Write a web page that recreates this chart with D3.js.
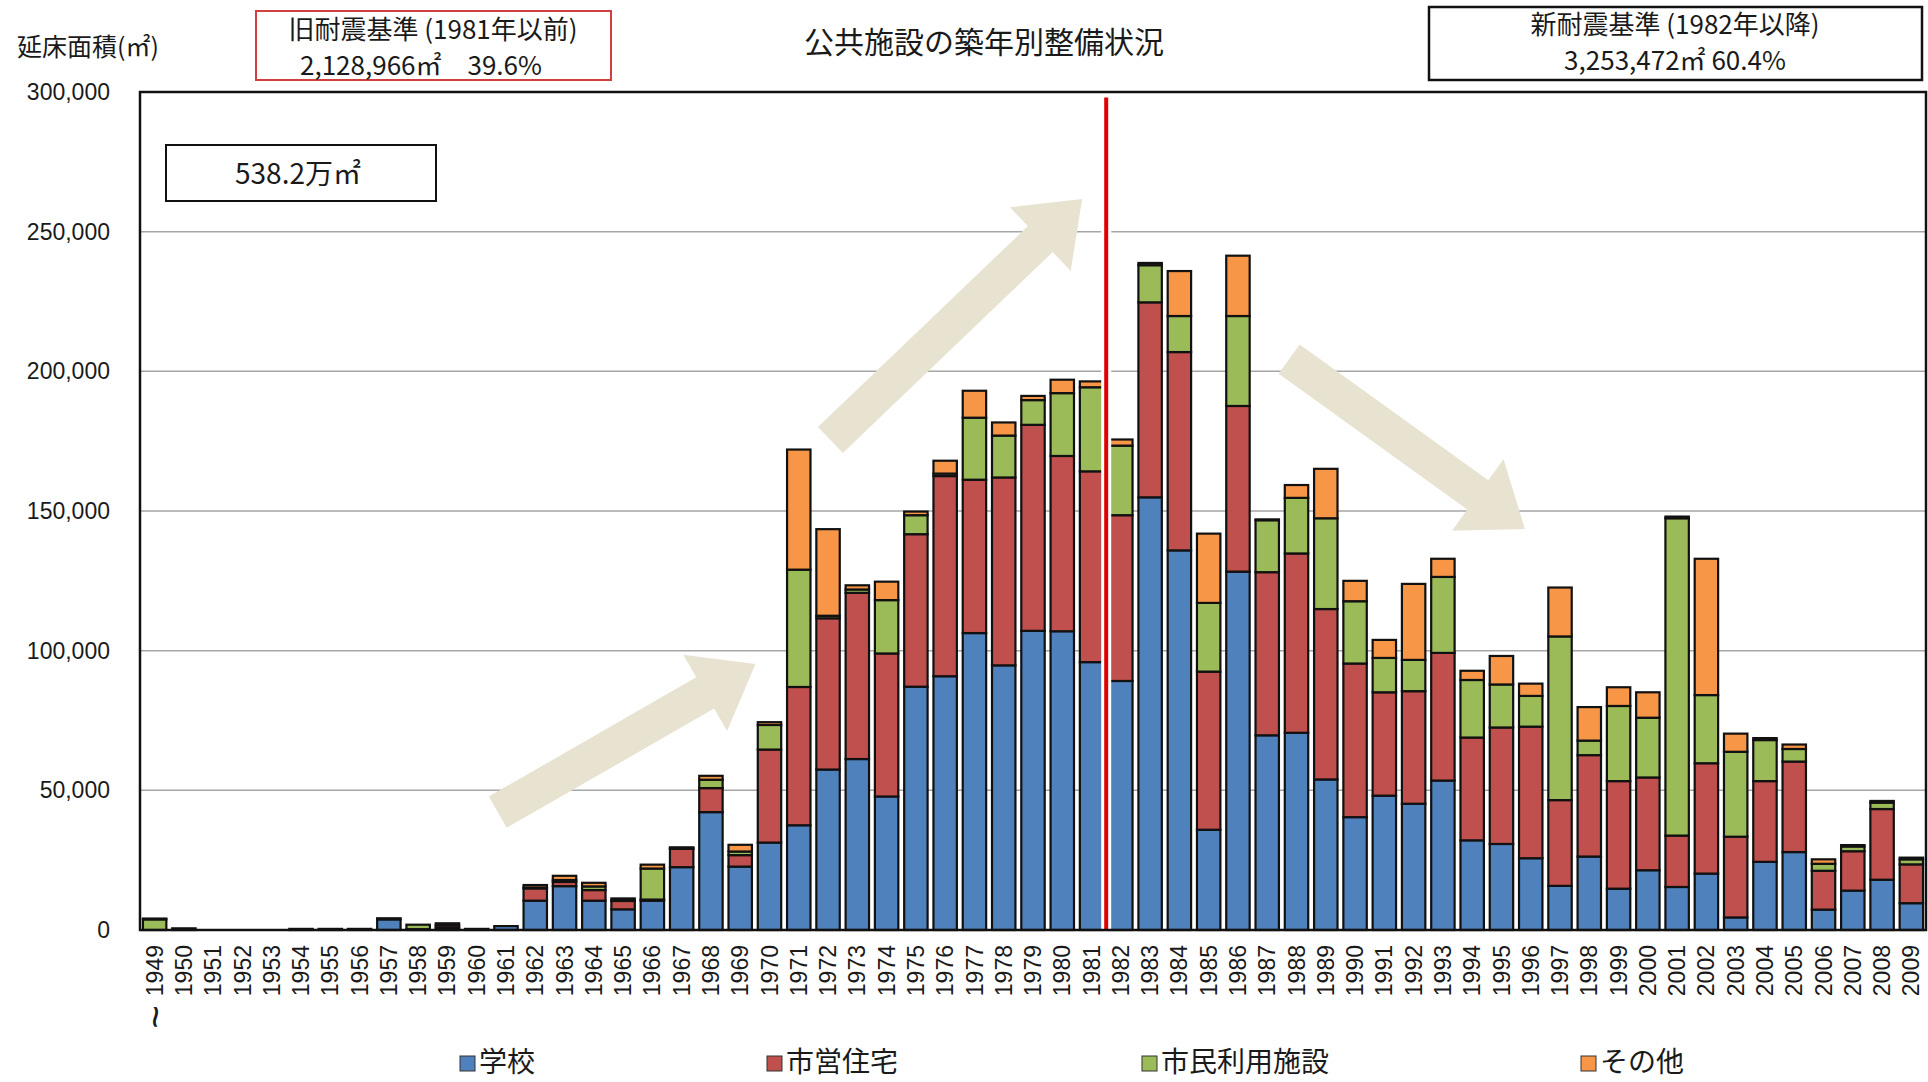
<!DOCTYPE html>
<html>
<head>
<meta charset="utf-8">
<title>公共施設の築年別整備状況</title>
<script src="https://d3js.org/d3.v7.min.js"></script>
<style>
  html, body { margin: 0; background: #fff; }
  svg { display: block; }
  .jp { font-family: "Noto Sans CJK JP", sans-serif; fill: #1a1a1a; }
  .num { font-family: "Liberation Sans", Arial, sans-serif; fill: #1a1a1a; }
</style>
</head>
<body>
<svg id="chart"></svg>
<script>
// 築年 (1949 = 1949年以前)
const years = ["1949","1950","1951","1952","1953","1954","1955","1956","1957","1958",
  "1959","1960","1961","1962","1963","1964","1965","1966","1967","1968",
  "1969","1970","1971","1972","1973","1974","1975","1976","1977","1978",
  "1979","1980","1981","1982","1983","1984","1985","1986","1987","1988",
  "1989","1990","1991","1992","1993","1994","1995","1996","1997","1998",
  "1999","2000","2001","2002","2003","2004","2005","2006","2007","2008","2009"];

// 延床面積 (㎡)
const school = [0,600,0,0,0,400,400,400,3800,300,
  700,400,1400,10500,15700,10500,7400,10500,22500,42200,
  22700,31300,37500,57450,61200,47800,87100,90850,106300,94750,
  107100,106950,95900,89150,154900,135900,35900,128300,69700,70600,
  53900,40400,48100,45200,53500,32100,30800,25700,15800,26300,
  14800,21400,15400,20200,4500,24400,27900,7300,14100,18000,9600];
const housing = [0,0,0,0,0,0,0,0,0,0,
  900,0,0,4400,1500,3800,3000,400,6600,8600,
  4100,33300,49500,54150,59500,51200,54600,71650,54900,67250,
  73750,62750,68300,59350,69800,71000,56600,59300,58400,64200,
  61000,55000,37000,40300,45700,36800,41700,47100,30700,36300,
  38500,33200,18400,39500,28900,28900,32400,13900,14100,25300,13900];
const civic = [3800,0,0,0,0,0,0,0,0,1600,
  0,0,0,300,700,1300,200,11100,200,3000,
  1300,8800,42000,900,1200,19100,6800,900,22200,15000,
  8850,22500,30100,24900,13300,12900,24600,32200,18600,19900,
  32500,22300,12300,11200,27200,20600,15400,11000,58600,5200,
  26900,21400,113600,24400,30400,14700,4500,2500,1700,2300,1800];
const other = [300,0,0,0,0,0,0,0,400,0,
  800,0,0,900,1500,1300,700,1400,300,1400,
  2400,1000,43000,31000,1500,6600,1300,4600,9650,4700,
  1500,4800,2100,2200,800,16100,24800,21600,300,4600,
  17700,7300,6450,27200,6500,3300,10200,4400,17500,12000,
  6700,9100,600,48800,6500,700,1600,1600,500,600,600];

const seriesNames = ["学校", "市営住宅", "市民利用施設", "その他"];
const seriesColors = ["#4F81BD", "#C0504D", "#9BBB59", "#F79646"];
const yTicks = [0, 50000, 100000, 150000, 200000, 250000, 300000];

// arrows: [year position, value] tail -> tip
const arrows = [
  [[1960.72, 42200], [1969.52, 95200]],
  [[1972.08, 175400], [1980.68, 261700]],
  [[1987.75, 204400], [1995.8, 143600]]
];

const width = 1928, height = 1082;
const margin = {left: 140, right: 2, top: 92, bottom: 152};

const svg = d3.select("#chart").attr("width", width).attr("height", height);

const x = d3.scaleBand().domain(years)
  .range([margin.left, width - margin.right])
  .paddingInner(0.2).paddingOuter(0.1);
const y = d3.scaleLinear().domain([0, 300000]).range([height - margin.bottom, margin.top]);

const rows = years.map((yr, i) => ({year: yr, values: [school[i], housing[i], civic[i], other[i]]}));
const stack = d3.stack().keys([0, 1, 2, 3]).value((d, k) => d.values[k]);
const stacked = stack(rows);

// gridlines
svg.append("g").selectAll("line").data(yTicks.slice(1)).join("line")
  .attr("x1", margin.left).attr("x2", width - margin.right)
  .attr("y1", d => y(d)).attr("y2", d => y(d))
  .attr("stroke", "#a6a6a6").attr("stroke-width", 1.5);

// y tick labels
svg.append("g").selectAll("text").data(yTicks).join("text")
  .attr("class", "num")
  .attr("x", 110).attr("y", d => y(d)).attr("dy", "0.35em")
  .attr("text-anchor", "end").attr("font-size", 23)
  .text(d => d3.format(",")(d));

// arrows (behind bars)
const xPos = v => x("1949") + x.bandwidth() / 2 + (v - 1949) * x.step();
function arrowPath(a) {
  const x0 = xPos(a[0][0]), y0 = y(a[0][1]), x1 = xPos(a[1][0]), y1 = y(a[1][1]);
  const len = Math.hypot(x1 - x0, y1 - y0);
  const ux = (x1 - x0) / len, uy = (y1 - y0) / len, px = -uy, py = ux;
  const sw = 18, hw = 44, hl = 58;
  const bx = x1 - ux * hl, by = y1 - uy * hl;
  const pts = [
    [x0 + px * sw, y0 + py * sw], [bx + px * sw, by + py * sw], [bx + px * hw, by + py * hw],
    [x1, y1],
    [bx - px * hw, by - py * hw], [bx - px * sw, by - py * sw], [x0 - px * sw, y0 - py * sw]
  ];
  return "M" + pts.map(p => p.join(",")).join("L") + "Z";
}
svg.append("g").selectAll("path").data(arrows).join("path")
  .attr("d", arrowPath).attr("fill", "#E8E3D1");

// bars
svg.append("g").selectAll("g").data(stacked).join("g")
  .attr("fill", (d, i) => seriesColors[i])
  .selectAll("rect").data(d => d.filter(s => s[1] - s[0] > 0)).join("rect")
  .attr("x", d => x(d.data.year))
  .attr("width", x.bandwidth())
  .attr("y", d => y(d[1]))
  .attr("height", d => y(d[0]) - y(d[1]))
  .attr("stroke", "#111").attr("stroke-width", 2.2);

// 1981/1982 divider
const divX = (x("1981") + x.bandwidth() + x("1982")) / 2;
svg.append("line").attr("x1", divX).attr("x2", divX).attr("y1", y(298000)).attr("y2", y(0))
  .attr("stroke", "#fff").attr("stroke-width", 10);
svg.append("line").attr("x1", divX).attr("x2", divX).attr("y1", y(298000)).attr("y2", y(0))
  .attr("stroke", "#E00000").attr("stroke-width", 4);

// plot frame
svg.append("rect")
  .attr("x", margin.left).attr("y", margin.top)
  .attr("width", width - margin.right - margin.left).attr("height", y(0) - margin.top)
  .attr("fill", "none").attr("stroke", "#111").attr("stroke-width", 2.5);

// x labels
svg.append("g").selectAll("text").data(years).join("text")
  .attr("class", "num").attr("font-size", 23).attr("text-anchor", "end")
  .attr("transform", d => `translate(${x(d) + x.bandwidth() / 2},945) rotate(-90)`)
  .attr("dy", "0.35em")
  .text(d => d);
svg.append("text").attr("class", "num").attr("font-size", 40)
  .attr("transform", `translate(${x("1949") + x.bandwidth() / 2},1017) rotate(90)`)
  .attr("text-anchor", "middle").attr("dy", "0.32em").text("~");

// axis title
svg.append("text").attr("class", "jp").attr("x", 17).attr("y", 56)
  .attr("font-size", 25).text("延床面積(㎡)");

// chart title
svg.append("text").attr("class", "jp").attr("x", 984).attr("y", 53)
  .attr("text-anchor", "middle").attr("font-size", 30).text("公共施設の築年別整備状況");

// old / new standard boxes
svg.append("rect").attr("x", 256).attr("y", 11).attr("width", 355).attr("height", 69)
  .attr("fill", "#fff").attr("stroke", "#d04040").attr("stroke-width", 2);
svg.append("text").attr("class", "jp").attr("x", 433).attr("y", 39).attr("text-anchor", "middle")
  .attr("font-size", 26).text("旧耐震基準 (1981年以前)");
svg.append("text").attr("class", "jp").attr("x", 421).attr("y", 75).attr("text-anchor", "middle")
  .attr("font-size", 26).text("2,128,966㎡　39.6%");

svg.append("rect").attr("x", 1429).attr("y", 7).attr("width", 493).attr("height", 73)
  .attr("fill", "#fff").attr("stroke", "#111").attr("stroke-width", 2.5);
svg.append("text").attr("class", "jp").attr("x", 1675).attr("y", 34).attr("text-anchor", "middle")
  .attr("font-size", 26).text("新耐震基準 (1982年以降)");
svg.append("text").attr("class", "jp").attr("x", 1675).attr("y", 70).attr("text-anchor", "middle")
  .attr("font-size", 26).text("3,253,472㎡  60.4%");

// total box
svg.append("rect").attr("x", 166).attr("y", 145).attr("width", 270).attr("height", 56)
  .attr("fill", "#fff").attr("stroke", "#111").attr("stroke-width", 2);
svg.append("text").attr("class", "jp").attr("x", 298).attr("y", 184).attr("text-anchor", "middle")
  .attr("font-size", 28).text("538.2万㎡");

// legend
const legendX = [460, 767, 1142, 1581];
const legend = svg.append("g").selectAll("g").data(seriesNames).join("g")
  .attr("transform", (d, i) => `translate(${legendX[i]},1062)`);
legend.append("rect").attr("x", 0).attr("y", -6).attr("width", 15).attr("height", 15)
  .attr("fill", (d, i) => seriesColors[i]).attr("stroke", "#333").attr("stroke-width", 1);
legend.append("text").attr("class", "jp").attr("x", 19).attr("y", 0).attr("dy", "0.36em")
  .attr("font-size", 28).text(d => d);
</script>
</body>
</html>
